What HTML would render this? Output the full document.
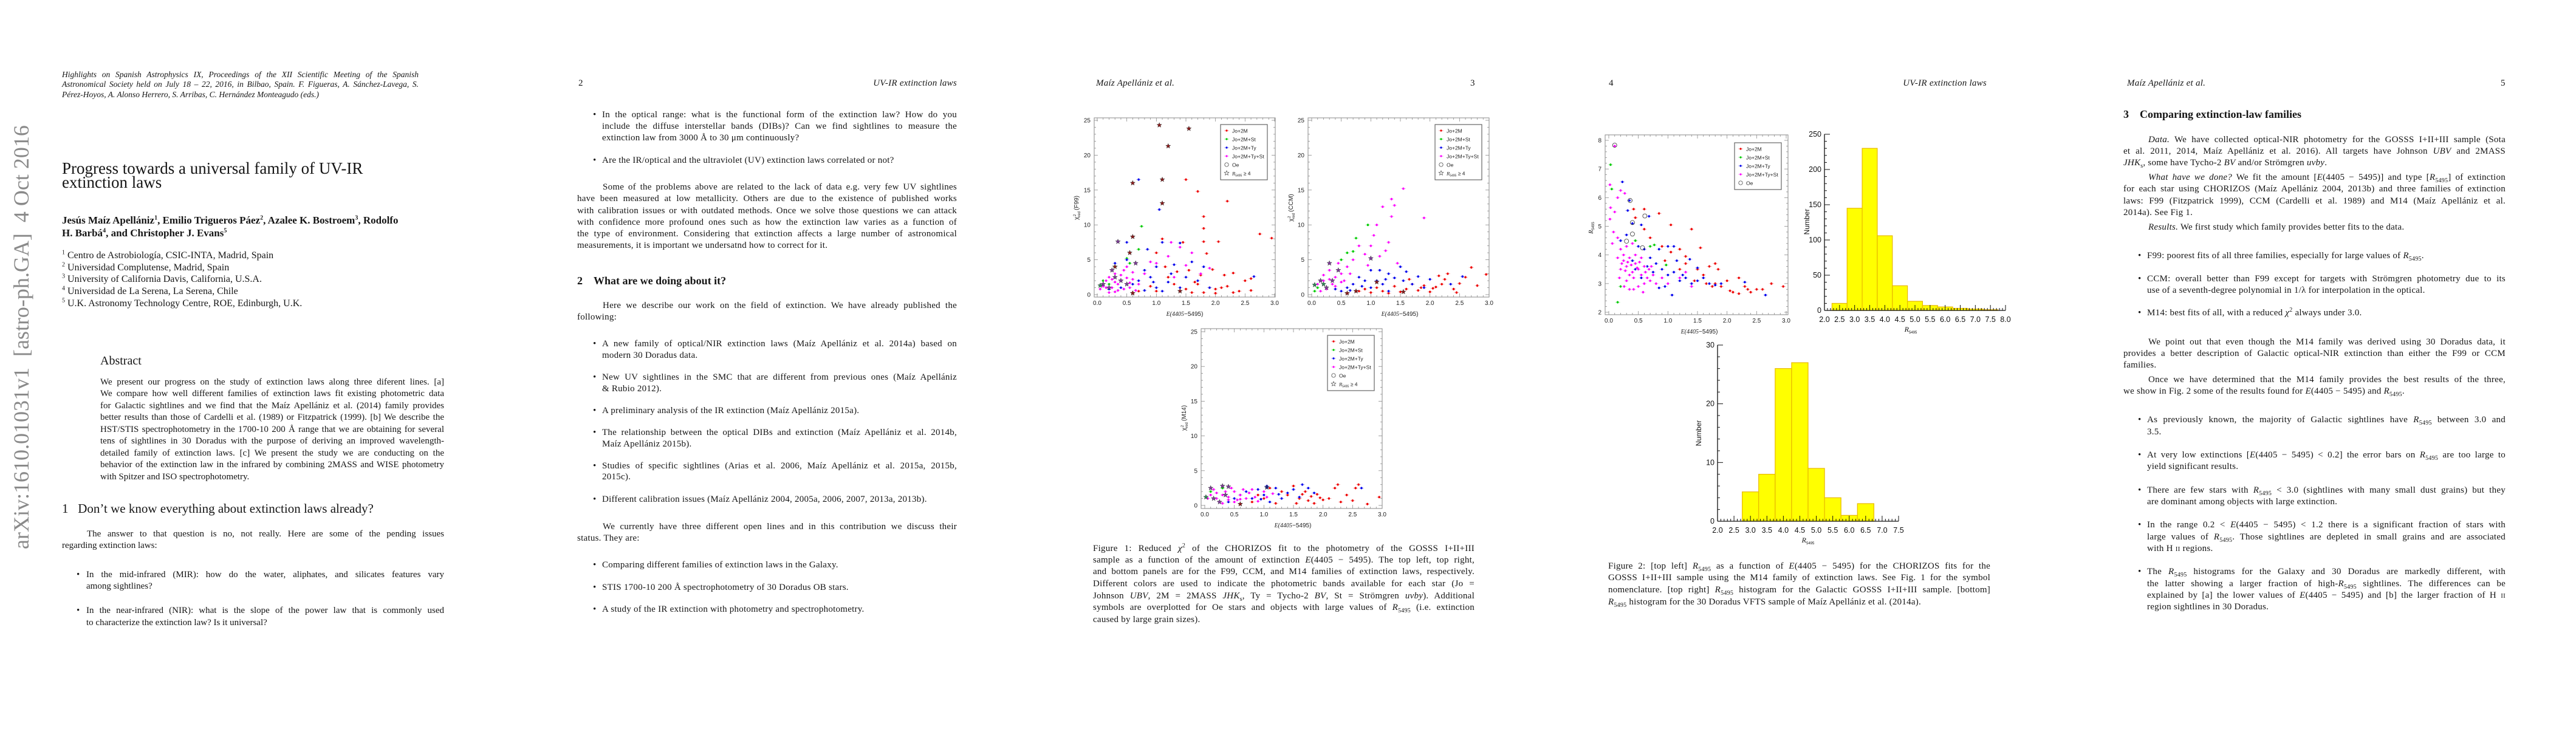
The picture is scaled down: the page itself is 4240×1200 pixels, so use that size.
<!DOCTYPE html>
<html><head><meta charset="utf-8">
<style>
html,body{margin:0;padding:0;background:#fff;}
body{width:4240px;height:1200px;position:relative;overflow:hidden;}
.t{position:absolute;white-space:nowrap;font-family:"Liberation Serif",serif;color:#151515;}
.j{text-align:justify;text-align-last:justify;}
.s{font-size:15px;line-height:19px;letter-spacing:0.25px;}
.p1{font-size:15px;line-height:19px;}
.it{font-style:italic;}
.w2{left:950px;width:625px}.b2{left:991px;width:584px}.i2{left:992px;width:583px}
.w5{left:3495px;width:629px}.b5{left:3534px;width:590px}.i5{left:3536px;width:588px}
.c3{left:1799px;width:628px}.c4{left:2647px;width:629px}
.a1{left:165px;width:566px}.w1{left:102px;width:629px}.i1{left:143px;width:588px}.b1{left:142px;width:589px}
sub{font-size:10px;line-height:0}sup{font-size:10px;line-height:0}
svg text{font-family:"Liberation Sans",sans-serif;}
</style></head><body>

<!-- PAGE 1 -->
<div class="t" style="left:-238px;top:611px;width:546px;font-size:36px;line-height:40px;color:#8a8a8a;transform:rotate(-90deg);text-align:justify;text-align-last:justify;">arXiv:1610.01031v1 &nbsp;[astro-ph.GA] &nbsp;4 Oct 2016</div>
<div>
<div class="t j it" style="left:102px;width:587px;top:115px;font-size:13.5px;line-height:16px;">Highlights on Spanish Astrophysics IX, Proceedings of the XII Scientific Meeting of the Spanish</div>
<div class="t j it" style="left:102px;width:587px;top:131px;font-size:13.5px;line-height:16px;">Astronomical Society held on July 18 – 22, 2016, in Bilbao, Spain. F. Figueras, A. Sánchez-Lavega, S.</div>
<div class="t it" style="left:102px;top:148px;font-size:13.5px;line-height:16px;">Pérez-Hoyos, A. Alonso Herrero, S. Arribas, C. Hernández Monteagudo (eds.)</div>
</div>
<div>
<div class="t" style="left:102px;top:264px;font-size:27px;line-height:26px;">Progress towards a universal family of UV-IR</div>
<div class="t" style="left:102px;top:287px;font-size:27px;line-height:26px;">extinction laws</div>
</div>
<div>
<div class="t" style="left:102px;top:353px;font-size:17px;line-height:19px;font-weight:bold;">Jesús Maíz Apellániz<sup>1</sup>, Emilio Trigueros Páez<sup>2</sup>, Azalee K. Bostroem<sup>3</sup>, Rodolfo</div>
<div class="t" style="left:102px;top:374px;font-size:17px;line-height:19px;font-weight:bold;">H. Barbá<sup>4</sup>, and Christopher J. Evans<sup>5</sup></div>
</div>
<div>
<div class="t" style="left:102px;top:412px;font-size:16px;line-height:18px;"><sup>1</sup> Centro de Astrobiología, CSIC-INTA, Madrid, Spain</div>
<div class="t" style="left:102px;top:432px;font-size:16px;line-height:18px;"><sup>2</sup> Universidad Complutense, Madrid, Spain</div>
<div class="t" style="left:102px;top:451px;font-size:16px;line-height:18px;"><sup>3</sup> University of California Davis, California, U.S.A.</div>
<div class="t" style="left:102px;top:471px;font-size:16px;line-height:18px;"><sup>4</sup> Universidad de La Serena, La Serena, Chile</div>
<div class="t" style="left:102px;top:491px;font-size:16px;line-height:18px;"><sup>5</sup> U.K. Astronomy Technology Centre, ROE, Edinburgh, U.K.</div>
</div>
<div class="t" style="left:165px;top:583px;font-size:20px;line-height:22px;">Abstract</div>
<div>
<div class="t j p1 a1" style="top:620px">We present our progress on the study of extinction laws along three diferent lines. [a]</div>
<div class="t j p1 a1" style="top:639px">We compare how well different families of extinction laws fit existing photometric data</div>
<div class="t j p1 a1" style="top:659px">for Galactic sightlines and we find that the Maíz Apellániz et al. (2014) family provides</div>
<div class="t j p1 a1" style="top:678px">better results than those of Cardelli et al. (1989) or Fitzpatrick (1999). [b] We describe the</div>
<div class="t j p1 a1" style="top:698px">HST/STIS spectrophotometry in the 1700-10 200 Å range that we are obtaining for several</div>
<div class="t j p1 a1" style="top:717px">tens of sightlines in 30 Doradus with the purpose of deriving an improved wavelength-</div>
<div class="t j p1 a1" style="top:737px">detailed family of extinction laws. [c] We present the study we are conducting on the</div>
<div class="t j p1 a1" style="top:756px">behavior of the extinction law in the infrared by combining 2MASS and WISE photometry</div>
<div class="t p1 a1" style="top:776px">with Spitzer and ISO spectrophotometry.</div>
</div>
<div class="t" style="left:102px;top:825px;font-size:21px;line-height:24px;">1 &nbsp;&nbsp;Don’t we know everything about extinction laws already?</div>
<div>
<div class="t j p1 i1" style="top:870px">The answer to that question is no, not really. Here are some of the pending issues</div>
<div class="t p1 w1" style="top:889px">regarding extinction laws:</div>
<div class="t p1" style="left:126px;top:937px">•</div>
<div class="t j p1 b1" style="top:937px">In the mid-infrared (MIR): how do the water, aliphates, and silicates features vary</div>
<div class="t p1 b1" style="top:956px">among sightlines?</div>
<div class="t p1" style="left:126px;top:996px">•</div>
<div class="t j p1 b1" style="top:996px">In the near-infrared (NIR): what is the slope of the power law that is commonly used</div>
<div class="t p1 b1" style="top:1016px">to characterize the extinction law? Is it universal?</div>
</div>

<!-- PAGE 2 -->
<div class="t s" style="left:952px;top:128px">2</div>
<div class="t s it" style="left:1400px;width:175px;top:128px;text-align:right">UV-IR extinction laws</div>
<div>
<div class="t s" style="left:976px;top:180px">•</div>
<div class="t j s b2" style="top:180px">In the optical range: what is the functional form of the extinction law? How do you</div>
<div class="t j s b2" style="top:199px">include the diffuse interstellar bands (DIBs)? Can we find sightlines to measure the</div>
<div class="t s b2" style="top:218px">extinction law from 3000 Å to 30 μm continuously?</div>
<div class="t s" style="left:976px;top:255px">•</div>
<div class="t s b2" style="top:255px">Are the IR/optical and the ultraviolet (UV) extinction laws correlated or not?</div>
<div class="t j s i2" style="top:299px">Some of the problems above are related to the lack of data e.g. very few UV sightlines</div>
<div class="t j s w2" style="top:318px">have been measured at low metallicity. Others are due to the existence of published works</div>
<div class="t j s w2" style="top:338px">with calibration issues or with outdated methods. Once we solve those questions we can attack</div>
<div class="t j s w2" style="top:357px">with confidence more profound ones such as how the extinction law varies as a function of</div>
<div class="t j s w2" style="top:376px">the type of environment. Considering that extinction affects a large number of astronomical</div>
<div class="t s w2" style="top:395px">measurements, it is important we undersatnd how to correct for it.</div>
<div class="t" style="left:950px;top:451px;font-size:18px;line-height:22px;font-weight:bold;">2 &nbsp;&nbsp;&nbsp;What are we doing about it?</div>
<div class="t j s i2" style="top:494px">Here we describe our work on the field of extinction. We have already published the</div>
<div class="t s w2" style="top:513px">following:</div>
<div class="t s" style="left:976px;top:557px">•</div>
<div class="t j s b2" style="top:557px">A new family of optical/NIR extinction laws (Maíz Apellániz et al. 2014a) based on</div>
<div class="t s b2" style="top:576px">modern 30 Doradus data.</div>
<div class="t s" style="left:976px;top:612px">•</div>
<div class="t j s b2" style="top:612px">New UV sightlines in the SMC that are different from previous ones (Maíz Apellániz</div>
<div class="t s b2" style="top:631px">&amp; Rubio 2012).</div>
<div class="t s" style="left:976px;top:667px">•</div>
<div class="t s b2" style="top:667px">A preliminary analysis of the IR extinction (Maíz Apellániz 2015a).</div>
<div class="t s" style="left:976px;top:703px">•</div>
<div class="t j s b2" style="top:703px">The relationship between the optical DIBs and extinction (Maíz Apellániz et al. 2014b,</div>
<div class="t s b2" style="top:722px">Maíz Apellániz 2015b).</div>
<div class="t s" style="left:976px;top:758px">•</div>
<div class="t j s b2" style="top:758px">Studies of specific sightlines (Arias et al. 2006, Maíz Apellániz et al. 2015a, 2015b,</div>
<div class="t s b2" style="top:776px">2015c).</div>
<div class="t s" style="left:976px;top:813px">•</div>
<div class="t s b2" style="top:813px">Different calibration issues (Maíz Apellániz 2004, 2005a, 2006, 2007, 2013a, 2013b).</div>
<div class="t j s i2" style="top:858px">We currently have three different open lines and in this contribution we discuss their</div>
<div class="t s w2" style="top:877px">status. They are:</div>
<div class="t s" style="left:976px;top:921px">•</div>
<div class="t s b2" style="top:921px">Comparing different families of extinction laws in the Galaxy.</div>
<div class="t s" style="left:976px;top:958px">•</div>
<div class="t s b2" style="top:958px">STIS 1700-10 200 Å spectrophotometry of 30 Doradus OB stars.</div>
<div class="t s" style="left:976px;top:994px">•</div>
<div class="t s b2" style="top:994px">A study of the IR extinction with photometry and spectrophotometry.</div>
</div>

<!-- PAGE 3 -->
<div class="t s it" style="left:1804px;top:128px">Maíz Apellániz et al.</div>
<div class="t s" style="left:2420px;top:128px">3</div>
<div>
<div class="t j s c3" style="top:894px">Figure 1: Reduced <i>χ</i><sup>2</sup> of the CHORIZOS fit to the photometry of the GOSSS I+II+III</div>
<div class="t j s c3" style="top:913px">sample as a function of the amount of extinction <i>E</i>(4405 − 5495). The top left, top right,</div>
<div class="t j s c3" style="top:932px">and bottom panels are for the F99, CCM, and M14 families of extinction laws, respectively.</div>
<div class="t j s c3" style="top:952px">Different colors are used to indicate the photometric bands available for each star (Jo =</div>
<div class="t j s c3" style="top:972px">Johnson <i>UBV</i>, 2M = 2MASS <i>JHK</i><sub>s</sub>, Ty = Tycho-2 <i>BV</i>, St = Strömgren <i>uvby</i>). Additional</div>
<div class="t j s c3" style="top:991px">symbols are overplotted for Oe stars and objects with large values of <i>R</i><sub>5495</sub> (i.e. extinction</div>
<div class="t s c3" style="top:1011px">caused by large grain sizes).</div>
</div>

<!-- PAGE 4 -->
<div class="t s" style="left:2648px;top:128px">4</div>
<div class="t s it" style="left:3095px;width:175px;top:128px;text-align:right">UV-IR extinction laws</div>
<div>
<div class="t j s c4" style="top:923px">Figure 2: [top left] <i>R</i><sub>5495</sub> as a function of <i>E</i>(4405 − 5495) for the CHORIZOS fits for the</div>
<div class="t j s c4" style="top:942px">GOSSS I+II+III sample using the M14 family of extinction laws. See Fig. 1 for the symbol</div>
<div class="t j s c4" style="top:962px">nomenclature. [top right] <i>R</i><sub>5495</sub> histogram for the Galactic GOSSS I+II+III sample. [bottom]</div>
<div class="t s c4" style="top:982px"><i>R</i><sub>5495</sub> histogram for the 30 Doradus VFTS sample of Maíz Apellániz et al. (2014a).</div>
</div>

<!-- PAGE 5 -->
<div class="t s it" style="left:3501px;top:128px">Maíz Apellániz et al.</div>
<div class="t s" style="left:4116px;top:128px">5</div>
<div class="t" style="left:3495px;top:177px;font-size:18px;line-height:22px;font-weight:bold;">3 &nbsp;&nbsp;&nbsp;Comparing extinction-law families</div>
<div>
<div class="t j s i5" style="top:221px"><i>Data.</i> We have collected optical-NIR photometry for the GOSSS I+II+III sample (Sota</div>
<div class="t j s w5" style="top:240px">et al. 2011, 2014, Maíz Apellániz et al. 2016). All targets have Johnson <i>UBV</i> and 2MASS</div>
<div class="t s w5" style="top:259px"><i>JHK</i><sub>s</sub>, some have Tycho-2 <i>BV</i> and/or Strömgren <i>uvby</i>.</div>
<div class="t j s i5" style="top:283px"><i>What have we done?</i> We fit the amount [<i>E</i>(4405 − 5495)] and type [<i>R</i><sub>5495</sub>] of extinction</div>
<div class="t j s w5" style="top:302px">for each star using CHORIZOS (Maíz Apellániz 2004, 2013b) and three families of extinction</div>
<div class="t j s w5" style="top:322px">laws: F99 (Fitzpatrick 1999), CCM (Cardelli et al. 1989) and M14 (Maíz Apellániz et al.</div>
<div class="t s w5" style="top:341px">2014a). See Fig 1.</div>
<div class="t s i5" style="top:365px"><i>Results.</i> We first study which family provides better fits to the data.</div>
<div class="t s" style="left:3519px;top:412px">•</div>
<div class="t s b5" style="top:412px">F99: poorest fits of all three families, especially for large values of <i>R</i><sub>5495</sub>.</div>
<div class="t s" style="left:3519px;top:450px">•</div>
<div class="t j s b5" style="top:450px">CCM: overall better than F99 except for targets with Strömgren photometry due to its</div>
<div class="t s b5" style="top:469px">use of a seventh-degree polynomial in 1/λ for interpolation in the optical.</div>
<div class="t s" style="left:3519px;top:506px">•</div>
<div class="t s b5" style="top:506px">M14: best fits of all, with a reduced <i>χ</i><sup>2</sup> always under 3.0.</div>
<div class="t j s i5" style="top:554px">We point out that even though the M14 family was derived using 30 Doradus data, it</div>
<div class="t j s w5" style="top:573px">provides a better description of Galactic optical-NIR extinction than either the F99 or CCM</div>
<div class="t s w5" style="top:592px">families.</div>
<div class="t j s i5" style="top:616px">Once we have determined that the M14 family provides the best results of the three,</div>
<div class="t s w5" style="top:635px">we show in Fig. 2 some of the results found for <i>E</i>(4405 − 5495) and <i>R</i><sub>5495</sub>.</div>
<div class="t s" style="left:3519px;top:682px">•</div>
<div class="t j s b5" style="top:682px">As previously known, the majority of Galactic sightlines have <i>R</i><sub>5495</sub> between 3.0 and</div>
<div class="t s b5" style="top:702px">3.5.</div>
<div class="t s" style="left:3519px;top:740px">•</div>
<div class="t j s b5" style="top:740px">At very low extinctions [<i>E</i>(4405 − 5495) &lt; 0.2] the error bars on <i>R</i><sub>5495</sub> are too large to</div>
<div class="t s b5" style="top:759px">yield significant results.</div>
<div class="t s" style="left:3519px;top:798px">•</div>
<div class="t j s b5" style="top:798px">There are few stars with <i>R</i><sub>5495</sub> &lt; 3.0 (sightlines with many small dust grains) but they</div>
<div class="t s b5" style="top:817px">are dominant among objects with large extinction.</div>
<div class="t s" style="left:3519px;top:855px">•</div>
<div class="t j s b5" style="top:855px">In the range 0.2 &lt; <i>E</i>(4405 − 5495) &lt; 1.2 there is a significant fraction of stars with</div>
<div class="t j s b5" style="top:875px">large values of <i>R</i><sub>5495</sub>. Those sightlines are depleted in small grains and are associated</div>
<div class="t s b5" style="top:894px">with H <span style="font-size:11px">II</span> regions.</div>
<div class="t s" style="left:3519px;top:932px">•</div>
<div class="t j s b5" style="top:932px">The <i>R</i><sub>5495</sub> histograms for the Galaxy and 30 Doradus are markedly different, with</div>
<div class="t j s b5" style="top:952px">the latter showing a larger fraction of high-<i>R</i><sub>5495</sub> sightlines. The differences can be</div>
<div class="t j s b5" style="top:971px">explained by [a] the lower values of <i>E</i>(4405 − 5495) and [b] the larger fraction of H <span style="font-size:11px">II</span></div>
<div class="t s b5" style="top:990px">region sightlines in 30 Doradus.</div>
</div>

<svg id="charts" width="4240" height="1200" style="position:absolute;left:0;top:0" xmlns="http://www.w3.org/2000/svg"></svg>

<script>
// ---------- DATA ----------
const f99Red = [[1.5,16.5],[1.7,14.8],[2.2,13.4],[1.8,11.2],[1.8,9.5],[2.75,8.7],[2.95,8.1],[1.1,8],[1.8,7.6],[2.05,7.6],[1.85,5.9],[1.45,7.5],[1.0,6],[1.15,4],[1.35,3.3],[1.55,3.5],[2.15,2.8],[2.3,3.1],[2.5,2.0],[2.6,2.3],[1.7,1.5],[1.9,1.0],[2.0,0.8],[2.2,1.2],[2.4,0.5],[2.6,0.6],[1.3,1.5],[1.5,0.8],[1.6,0.3],[1.8,0.3],[2.0,0.2],[2.3,0.3],[0.9,1.2],[1.0,0.5],[1.2,2.5],[0.6,0.3],[0.7,0.5],[1.75,2.8],[1.95,3.6],[2.1,1.0],[1.65,1.8]];
const f99Green = [[0.75,9.8],[0.7,6.5],[0.5,5.2],[0.3,4],[0.1,2],[0.2,1.5],[0.55,4.5]];
const f99Blue = [[0.7,16.5],[1.05,12.2],[0.5,7.5],[0.85,6.5],[0.3,4.5],[0.5,5.0],[1.4,7.4],[1.1,7.5],[1.6,4.7],[1.8,4],[1.3,4.3],[1.0,4],[0.8,3.5],[0.9,2.5],[1.2,1.8],[1.0,1.0],[0.7,2.0],[0.6,1.5],[1.5,2.5],[1.7,2.0],[1.9,1.0],[1.1,0.5],[1.4,1.0],[2.65,2.6],[0.4,1],[0.2,0.8],[0.8,0.6],[1.25,3.0],[0.95,1.8]];
const f99Magenta = [[1.4,6.8],[1.6,6],[1.25,7.5],[1.2,5.5],[1.0,4.5],[0.9,4.7],[0.5,4],[0.3,3],[0.2,2.5],[0.4,2],[0.6,2.2],[0.7,1.5],[0.8,3],[1.3,2.5],[1.5,4.2],[0.1,1.2],[0.15,2.0],[0.25,1.0],[0.35,1.5],[0.45,0.8],[0.55,1.0],[0.65,0.6],[0.3,0.4],[0.2,0.3],[0.45,3.5],[0.6,3.2],[0.05,0.8],[1.9,3.8],[1.75,3.0],[0.3,1.8],[0.4,2.8],[0.5,2.4],[0.35,0.6],[0.25,2.2],[0.55,1.7],[0.15,1.0]];
const f99Stars = [[1.05,24.3,0],[1.55,23.8,0],[1.2,21.3,0],[1.1,16.5,0],[0.6,16,0],[1.1,13.1,0],[0.6,8.3,0],[0.55,6,0],[0.35,7.6,1],[0.3,4,0],[0.1,1.5,1],[0.2,1,1],[0.4,2,1],[0.5,1.5,1],[0.6,0.2,0],[1.4,0.5,0],[0.65,4.5,1],[0.05,1.3,3],[0.3,2.5,1],[0.25,3.5,1]];
const ccmRed = [[0.6,0.2],[0.8,0.5],[1.0,0.3],[1.2,0.5],[1.4,1.2],[1.5,0.4],[1.6,0.8],[1.7,1.5],[1.8,0.6],[1.9,1.3],[2.0,0.4],[2.1,1.1],[2.2,1.5],[2.3,3.0],[2.25,2.2],[2.4,0.8],[2.5,1.6],[2.6,2.5],[2.7,3.9],[2.8,1.3],[2.95,2.9],[2.45,0.3],[1.3,0.2],[1.1,1.0],[0.9,0.8],[1.65,2.2],[2.15,2.7],[1.85,1.0],[2.05,0.9]];
const ccmGreen = [[0.95,10],[0.75,8.1],[0.7,6.2],[0.6,6],[0.5,5],[0.1,1],[0.05,0.5]];
const ccmBlue = [[0.5,0.5],[0.6,1],[0.7,1.5],[0.8,2.5],[0.9,2],[1.0,3.5],[1.1,2],[1.2,1.5],[1.3,3],[1.4,2.4],[1.5,4],[1.55,2],[1.6,3.3],[1.7,1.5],[1.8,2.6],[1.9,1],[2.0,2.2],[1.0,1.0],[1.3,0.5],[0.4,0.8],[2.55,2.6],[2.35,1.5],[1.15,3.5],[0.85,1.2],[0.65,0.6],[1.25,2.2]];
const ccmMagenta = [[1.55,15.2],[1.9,11.0],[1.35,13.7],[1.4,12.8],[1.2,12.6],[1.35,11.2],[1.1,10.0],[1.3,7.5],[1.05,8.5],[1.25,6.3],[1.0,7.0],[0.8,7.0],[0.9,5.8],[0.7,5],[0.6,4],[0.5,3],[0.4,2.5],[0.3,3.5],[0.2,2],[0.1,1.5],[0.35,1.5],[0.25,0.8],[0.45,4.5],[0.55,2],[0.65,3],[0.15,0.5],[1.15,5.5],[0.95,4.2],[1.45,4.5],[0.3,2.2],[0.4,1.2],[0.5,1.8],[0.2,2.8]];
const ccmStars = [[0.05,1.4,3],[0.15,2,1],[0.3,4.5,1],[0.35,2,1],[0.25,1,1],[0.6,0.2,0],[0.75,0.5,0],[1.1,1.8,0],[1.0,5.2,1],[1.55,0.4,0],[0.45,3.5,1],[0.2,1.5,3]];
const m14Red = [[0.8,0.5],[1.0,1],[1.2,0.3],[1.3,2],[1.4,1.5],[1.5,2.8],[1.55,0.3],[1.6,1],[1.7,2],[1.75,0.7],[1.8,1.3],[1.85,0.3],[1.9,1.6],[2.0,0.8],[2.1,1.0],[2.2,2.5],[2.25,3.0],[2.3,0.5],[2.4,1.5],[2.5,0.7],[2.55,2.5],[2.6,3.0],[2.75,0.2],[2.95,1.2],[1.1,2.5],[0.9,1.5],[1.65,1.6],[1.95,1.1]];
const m14Green = [[0.05,1],[0.1,2],[0.3,2.5]];
const m14Blue = [[0.5,1],[0.6,1.5],[0.7,2],[0.8,1],[0.9,2.3],[1.0,1.5],[1.05,2.8],[1.2,2.5],[1.3,1.0],[1.4,1.8],[1.5,2.3],[1.6,1.2],[1.65,3.0],[1.75,2.5],[1.85,1.8],[2.65,2.5],[0.4,0.5],[1.1,0.5],[0.95,0.9],[1.25,1.6]];
const m14Magenta = [[0.05,1],[0.1,1.5],[0.15,2.3],[0.2,1],[0.25,0.5],[0.3,1.5],[0.35,2],[0.4,1.2],[0.45,2.5],[0.5,2],[0.55,0.8],[0.6,1.5],[0.65,2.3],[0.7,1],[0.75,1.8],[0.8,2.3],[0.85,1.2],[0.9,0.6],[1.0,2.0],[1.05,1.2],[1.15,1.7],[0.3,0.3],[0.5,0.5],[0.2,1.8],[0.4,0.8],[0.6,0.9]];
const m14Stars = [[0.02,1.2,3],[0.1,2.5,1],[0.3,2.8,1],[0.4,2.7,1],[0.25,0.5,1],[0.6,0.2,0],[1.05,2.6,2],[0.35,1.5,1],[0.15,1.0,1]];
const rRed = [[0.6,5.6],[0.85,5.45],[1.05,5.05],[1.4,4.9],[0.6,4.9],[0.9,4.3],[1.05,4.1],[1.2,4.2],[1.3,3.7],[1.5,3.5],[1.55,4.25],[1.6,3.3],[1.7,3.6],[1.8,3.7],[1.85,3.5],[1.9,2.9],[2.0,3.1],[2.1,2.7],[2.2,3.2],[2.3,2.9],[2.35,2.8],[2.4,2.7],[2.5,2.8],[2.6,2.8],[2.75,3.0],[2.95,2.9],[1.75,2.9],[2.05,2.75],[1.45,3.1],[0.95,3.8],[0.42,5.6],[0.7,4.6],[1.2,3.5],[0.45,5.3],[1.3,3.95],[1.65,3.0],[2.2,2.65],[1.8,3.0]];
const rGreen = [[0.03,7.15],[0.05,6.3],[0.2,2.9],[0.15,2.35],[0.45,4.5],[0.7,4.3],[0.77,4.35],[0.97,3.65]];
const rBlue = [[0.23,6.55],[0.35,5.9],[0.32,5.55],[0.4,5.1],[0.55,5.05],[0.68,5.35],[0.3,4.7],[0.5,4.3],[0.6,4.2],[0.7,3.9],[0.8,3.7],[0.9,3.5],[1.0,3.3],[1.1,3.4],[1.2,3.1],[1.3,3.2],[1.4,3.0],[1.5,3.1],[1.6,3.2],[1.7,3.0],[1.8,2.95],[0.85,2.85],[0.95,2.9],[1.07,2.6],[1.15,3.8],[1.25,3.3],[0.4,3.8],[0.45,3.5],[0.55,3.2],[0.75,3.4],[2.65,2.6],[2.3,3.05],[1.9,3.0],[0.85,4.2],[1.0,4.3],[1.1,4.3],[1.37,3.85],[1.5,3.55],[0.65,3.6],[0.2,4.5]];
const rMagenta = [[0.02,6.45],[0.03,5.65],[0.02,5.25],[0.06,4.4],[0.1,7.8],[0.15,6.0],[0.2,6.25],[0.27,6.15],[0.1,5.5],[0.15,4.6],[0.2,4.2],[0.25,3.8],[0.3,3.6],[0.35,3.9],[0.4,3.4],[0.45,3.7],[0.5,3.5],[0.55,3.3],[0.6,3.6],[0.65,3.2],[0.7,3.1],[0.75,3.3],[0.8,3.0],[0.2,3.5],[0.3,3.1],[0.35,2.8],[0.25,4.0],[0.4,4.4],[0.5,2.9],[0.08,4.8],[0.3,4.3],[0.45,4.0],[0.9,3.2],[1.0,3.0],[0.55,3.9],[0.35,3.3],[0.15,3.9],[0.6,3.0],[0.28,3.45],[0.38,3.65],[0.42,3.2],[0.48,3.55],[0.32,3.75],[0.22,3.7],[0.52,3.75],[0.62,3.4],[0.68,3.5],[0.72,3.6],[0.26,2.9],[0.18,3.2],[0.42,2.8],[0.58,2.7],[1.2,3.2],[1.4,2.9],[1.3,3.4]];
const rOe = [[0.1,7.83],[0.36,5.9],[0.4,5.13],[0.61,5.36],[0.3,4.48],[0.4,4.73],[0.57,4.25]];
const galBinStart = [2.25,2.75,3.25,3.75,4.25,4.75,5.25,5.75,6.25,6.75,7.25];
const galCounts = [10,145,230,106,35,13,7,5,3,2,1];
const dorBinStart = [2.75,3.25,3.75,4.25,4.75,5.25,5.75,6.25];
const dorCounts = [5,8,26,27,9,4,1,3];
const binWidth = 0.5;
const legendLabels = ["Jo+2M","Jo+2M+St","Jo+2M+Ty","Jo+2M+Ty+St","Oe"];
const yTicksChi = [0,5,10,15,20,25];
const yTicksR = [2,3,4,5,6,7,8];
const xTicksE = [0.0,0.5,1.0,1.5,2.0,2.5,3.0];
const yTicksGal = [0,50,100,150,200,250];
const yTicksDor = [0,10,20,30];

// ---------- DRAWING ----------
const NS = "http://www.w3.org/2000/svg";
const svg = document.getElementById("charts");
function el(tag, attrs, parent){
  const e = document.createElementNS(NS, tag);
  for (const k in attrs) e.setAttribute(k, attrs[k]);
  (parent || svg).appendChild(e);
  return e;
}
const COL = ["#ee0000","#00cc00","#0000ee","#ff00ff"];
const ECOL = ["#f4a0a0","#a0e8a0","#a8a8f0","#f4a8f4"];
const STARCOL = ["#8b1c1c","#7d3c98","#1a237e","#2e8b57"];

function starPts(cx, cy, R){
  let p = [];
  for (let i=0;i<10;i++){
    const r = i%2===0 ? R : R*0.42;
    const a = -Math.PI/2 + i*Math.PI/5;
    p.push((cx + r*Math.cos(a)).toFixed(1)+","+(cy + r*Math.sin(a)).toFixed(1));
  }
  return p.join(" ");
}

function scatter(name, fr, yTicks, yMinor, ymin, ymax, series, stars, oe, ylab, xlabPos, ylabPos, leg, showStarLegend){
  const g = el("g", {});
  
  
  const sx = v => fr.ax0 + (v - 0)/(3 - 0)*(fr.ax1 - fr.ax0);
  const sy = v => fr.ay0 + (v - ymin)/(ymax - ymin)*(fr.ay1 - fr.ay0);
  const frame = el("rect", {x:fr.x0, y:fr.y0, width:fr.x1-fr.x0, height:fr.y1-fr.y0, fill:"none", stroke:"#8a8a8a", "stroke-width":1}, g);
  
  
  for (let k=0;k<=30;k++){
    const v = k/10, X = sx(v), L = (k%5===0)?6:3;
    el("line",{x1:X,y1:fr.y1,x2:X,y2:fr.y1-L,stroke:"#8a8a8a","stroke-width":0.8},g);
    el("line",{x1:X,y1:fr.y0,x2:X,y2:fr.y0+L,stroke:"#8a8a8a","stroke-width":0.8},g);
  }
  xTicksE.forEach(v=>{
    const t = el("text",{x:sx(v),y:fr.y1+13,"font-size":10,"text-anchor":"middle",fill:"#222"},g);
    t.textContent = v.toFixed(1);
    
    
  });
  for (let v=ymin; v<=ymax+1e-9; v+=yMinor){
    const Y = sy(v), major = yTicks.some(t=>Math.abs(t-v)<1e-6), L = major?6:3;
    el("line",{x1:fr.x0,y1:Y,x2:fr.x0+L,y2:Y,stroke:"#8a8a8a","stroke-width":0.8},g);
    el("line",{x1:fr.x1,y1:Y,x2:fr.x1-L,y2:Y,stroke:"#8a8a8a","stroke-width":0.8},g);
  }
  yTicks.forEach(v=>{
    const t = el("text",{x:fr.x0-6,y:sy(v)+3.5,"font-size":10,"text-anchor":"end",fill:"#222"},g);
    t.textContent = String(v);
    
    
  });
  series.forEach((arr, si)=>{
    arr.forEach(p=>{
      const X = sx(p[0]), Y = sy(p[1]);
      el("line",{x1:X-4,y1:Y,x2:X+4,y2:Y,stroke:ECOL[si],"stroke-width":0.9},g);
      el("line",{x1:X,y1:Y-2.5,x2:X,y2:Y+2.5,stroke:ECOL[si],"stroke-width":0.9},g);
      const c = el("circle",{cx:X,cy:Y,r:1.8,fill:COL[si]},g);
      
      
    });
  });
  stars.forEach(p=>{
    const s = el("polygon",{points:starPts(sx(p[0]),sy(p[1]),4.2),fill:STARCOL[p[2]],stroke:"#333","stroke-width":0.5},g);
    
    
  });
  oe.forEach(p=>{
    const c = el("circle",{cx:sx(p[0]),cy:sy(p[1]),r:3.5,fill:"none",stroke:"#333","stroke-width":0.8},g);
    
    
  });
  const xl = el("text",{x:xlabPos[0],y:xlabPos[1],"font-size":10,"text-anchor":"middle",fill:"#222"},g);
  xl.innerHTML = '<tspan font-style="italic" font-family="Liberation Serif">E(4405</tspan>−5495)';
  
  
  const yl = el("text",{x:ylabPos[0],y:ylabPos[1],"font-size":10,"text-anchor":"middle",fill:"#222",transform:`rotate(-90 ${ylabPos[0]} ${ylabPos[1]})`},g);
  yl.innerHTML = ylab;
  
  
  const lg = el("g",{},g);
  
  
  el("rect",{x:leg[0],y:leg[1],width:77,height:showStarLegend?91:77,fill:"#fff",stroke:"#666","stroke-width":1.2},lg);
  const n = showStarLegend ? 6 : 5;
  for (let i=0;i<n;i++){
    const Y = leg[1] + 10 + i*14;
    if (i<4){
      el("line",{x1:leg[0]+6,y1:Y,x2:leg[0]+14,y2:Y,stroke:ECOL[i],"stroke-width":0.9},lg);
      el("circle",{cx:leg[0]+10,cy:Y,r:1.6,fill:COL[i]},lg);
    } else if (i===4){
      el("circle",{cx:leg[0]+10,cy:Y,r:3.2,fill:"none",stroke:"#333","stroke-width":0.7},lg);
    } else {
      el("polygon",{points:starPts(leg[0]+10,Y,4),fill:"none",stroke:"#333","stroke-width":0.6},lg);
    }
    const t = el("text",{x:leg[0]+19,y:Y+3.3,"font-size":8.5,fill:"#222"},lg);
    if (i<5) t.textContent = legendLabels[i];
    else t.innerHTML = '<tspan font-style="italic" font-family="Liberation Serif">R</tspan><tspan font-size="5" dy="2">5495</tspan><tspan dy="-2"> ≥ 4</tspan>';
    
    
  }
}

const chiLab = (f)=>'χ<tspan font-size="6" dy="3">red</tspan><tspan font-size="6" dy="-7" dx="-8">2</tspan><tspan dy="4" dx="4"> (' + f + ')</tspan>';

scatter("chart-f99", {x0:1801,x1:2099,y0:194,y1:489,ax0:1806,ax1:2098,ay0:485,ay1:198}, yTicksChi, 1, 0, 25,
  [f99Red,f99Green,f99Blue,f99Magenta], f99Stars, [], chiLab("F99"), [1950,520], [1775,342], [2009,205], true);
scatter("chart-ccm", {x0:2153,x1:2451,y0:194,y1:489,ax0:2159,ax1:2451,ay0:485,ay1:198}, yTicksChi, 1, 0, 25,
  [ccmRed,ccmGreen,ccmBlue,ccmMagenta], ccmStars, [], chiLab("CCM"), [2304,520], [2128,342], [2362,205], true);
scatter("chart-m14", {x0:1977,x1:2275,y0:541,y1:837,ax0:1983,ax1:2275,ay0:832,ay1:546}, yTicksChi, 1, 0, 25,
  [m14Red,m14Green,m14Blue,m14Magenta], m14Stars, [], chiLab("M14"), [2128,868], [1952,688], [2185,552], true);
scatter("chart-r5495", {x0:2642,x1:2943,y0:222,y1:518,ax0:2648,ax1:2940,ay0:514,ay1:231}, yTicksR, 0.2, 2, 8,
  [rRed,rGreen,rBlue,rMagenta], [], rOe, '<tspan font-style="italic" font-family="Liberation Serif">R</tspan><tspan font-size="6" dy="2">5495</tspan>', [2797,549], [2622,375], [2855,235], false);

function hist(name, ax, xmin, xmax, ymax, yTicks, yMinor, starts, counts, xlab, ylab){
  const g = el("g",{});
  
  
  const sx = v => ax.x0 + (v - xmin)/(xmax - xmin)*(ax.x1 - ax.x0);
  const sy = v => ax.y0 + (v/ymax)*(ax.y1 - ax.y0);
  starts.forEach((s,i)=>{
    const r = el("rect",{x:sx(s),y:sy(counts[i]),width:sx(s+binWidth)-sx(s),height:sy(0)-sy(counts[i]),fill:"#ffff00",stroke:"#e8b800","stroke-width":1.2},g);
    
    
  });
  el("line",{x1:ax.x0,y1:ax.y0,x2:ax.x1,y2:ax.y0,stroke:"#111","stroke-width":1.3},g);
  el("line",{x1:ax.x0,y1:ax.y0,x2:ax.x0,y2:ax.y1,stroke:"#111","stroke-width":1.3},g);
  const nx = Math.round((xmax-xmin)/0.1);
  for (let k=0;k<=nx;k++){
    const v = xmin + k*0.1, X = sx(v), L = (k%5===0)?9:4;
    el("line",{x1:X,y1:ax.y0,x2:X,y2:ax.y0-L,stroke:"#111","stroke-width":1},g);
    if (k%5===0){
      const t = el("text",{x:X,y:ax.y0+19,"font-size":12.5,"text-anchor":"middle",fill:"#111"},g);
      t.textContent = v.toFixed(1);
      
      
    }
  }
  for (let v=0; v<=ymax+1e-9; v+=yMinor){
    const major = yTicks.includes(Math.round(v));
    el("line",{x1:ax.x0,y1:sy(v),x2:ax.x0+(major?9:4),y2:sy(v),stroke:"#111","stroke-width":1},g);
  }
  yTicks.forEach(v=>{
    const t = el("text",{x:ax.x0-5,y:sy(v)+4,"font-size":12.5,"text-anchor":"end",fill:"#111"},g);
    t.textContent = String(v);
    
    
  });
  const xl = el("text",{x:xlab[0],y:xlab[1],"font-size":12,"text-anchor":"middle",fill:"#111"},g);
  xl.innerHTML = '<tspan font-style="italic" font-family="Liberation Serif">R</tspan><tspan font-size="6" dy="3">5495</tspan>';
  
  
  const yl = el("text",{x:ylab[0],y:ylab[1],"font-size":12,"text-anchor":"middle",fill:"#111",transform:`rotate(-90 ${ylab[0]} ${ylab[1]})`},g);
  yl.textContent = "Number";
  
  
}
hist("histogram-galactic", {x0:3003,x1:3301,y0:511,y1:221}, 2.0, 8.0, 250, yTicksGal, 10, galBinStart, galCounts, [3145,546], [2978,365]);
hist("histogram-30dor", {x0:2827,x1:3125,y0:858,y1:568}, 2.0, 7.5, 30, yTicksDor, 2, dorBinStart, dorCounts, [2976,893], [2800,713]);
</script>
</body></html>
